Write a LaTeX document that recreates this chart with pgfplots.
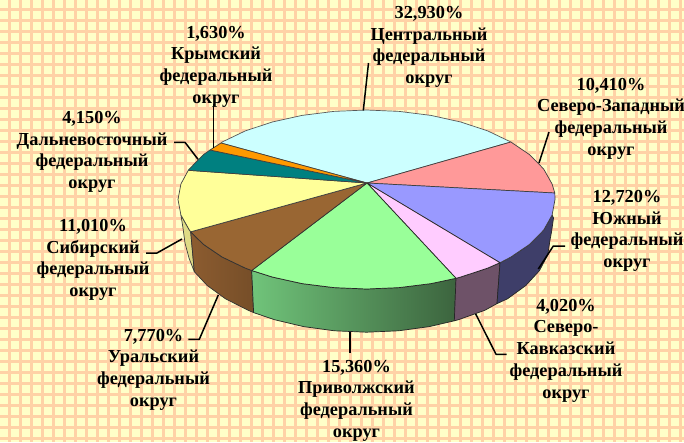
\documentclass[border=0pt]{standalone}
\usepackage{fontspec}
\setmainfont{Liberation Serif}
\usepackage{pgfplots}
\pgfplotsset{compat=1.18}
\definecolor{paper}{HTML}{FFFFC8}
\definecolor{gridc}{HTML}{FFD2A6}
\definecolor{slCyan}{HTML}{CCFFFF}
\definecolor{slPink}{HTML}{FF9999}
\definecolor{slBlue}{HTML}{9999FF}
\definecolor{slViolet}{HTML}{FFCCFF}
\definecolor{slGreen}{HTML}{99FF99}
\definecolor{slBrown}{HTML}{996633}
\definecolor{slYellow}{HTML}{FFFF99}
\definecolor{slTeal}{HTML}{008080}
\definecolor{slOrange}{HTML}{FF9900}
\newcommand{\lab}[3]{\node[font=\fontsize{18.3}{21.7}\selectfont\bfseries,align=center,inner sep=0pt,text=black] at (axis cs:#1,#2) {#3};}
\begin{document}
\begin{tikzpicture}
\begin{axis}[
    name=ax,
    width=684pt, height=442pt, scale only axis,
    xmin=0, xmax=684, ymin=0, ymax=442,
    y dir=reverse,
    axis line style={draw=none},
    tick style={draw=none},
    xticklabels={}, yticklabels={},
    xtick={9.5,20.5,...,680}, ytick={9.5,20.5,...,440},
    grid=major,
    major grid style={gridc, line width=2.4pt},
    axis background/.style={fill=paper},
    no markers,
    every axis plot/.append style={line join=round},
]
% side walls
\addplot[fill={rgb,255:red,222;green,219;blue,133}, draw=black!75, line width=0.7pt] coordinates {
 (180.9,215) (189.4,230.1) (190.7,231.8) (194.3,271.7) (189,258) (185,243) (183,228) (180.9,215)};
\addplot[left color={rgb,255:red,140;green,92;blue,48}, right color={rgb,255:red,118;green,78;blue,40}, draw=black!80, line width=0.7pt] coordinates {
 (190.7,231.8) (203.3,244.25) (222.1,257) (245.3,268.1) (251.7,270.5) (253.6,312.6) (248.2,310.3) (225.5,298.8) (207.2,285.5) (194.3,271.7) (190.7,231.8)};
\addplot[left color={rgb,255:red,112;green,196;blue,122}, right color={rgb,255:red,60;green,100;blue,62}, draw=black!85, line width=0.7pt] coordinates {
 (251.7,270.5) (272.25,277) (302,283.6) (333.8,287.6) (366.5,289) (399.2,287.6) (431,283.6) (456,278.3) (454.3,320.8) (429.4,326.6) (398.5,330.8) (366.5,332.2) (334.5,330.8) (303.6,326.6) (274.5,319.7) (253.6,312.6) (251.7,270.5)};
\addplot[fill={rgb,255:red,110;green,82;blue,104}, draw=black!85, line width=0.7pt] coordinates {
 (456,278.3) (460.75,277) (487.7,268.1) (500,262.7) (497,303.6) (484.8,310.3) (458.5,319.7) (454.3,320.8) (456,278.3)};
\addplot[fill={rgb,255:red,62;green,62;blue,105}, draw=black!85, line width=0.7pt] coordinates {
 (500,262.7) (510.9,257) (529.7,244.25) (543.6,230.1) (552.1,215) (553.5,218) (552.5,225) (551.5,232) (550,240) (547.7,255) (539.4,270.7) (525.8,285.5) (507.5,298.8) (497,303.6) (500,262.7)};
% top face
\addplot[fill=slCyan, draw=black!65, line width=0.7pt] coordinates {
 (367,183) (510.9,142) (487.7,130.9) (460.75,122) (431,115.4) (399.2,111.4) (366.5,110) (333.8,111.4) (302,115.4) (272.25,122) (245.3,130.9) (222.1,142) (221,143) (367,183)};
\addplot[fill=slPink, draw=black!75, line width=0.7pt] coordinates {
 (367,183) (554.8,193) (552.1,184) (543.6,168.9) (529.7,154.75) (510.9,142) (367,183)};
\addplot[fill=slBlue, draw=black!75, line width=0.7pt] coordinates {
 (367,183) (554.8,193) (555,199.5) (552.1,215) (543.6,230.1) (529.7,244.25) (510.9,257) (500,262.7) (367,183)};
\addplot[fill=slViolet, draw=black!85, line width=0.7pt] coordinates {
 (367,183) (500,262.7) (487.7,268.1) (460.75,277) (456,278.3) (367,183)};
\addplot[fill=slGreen, draw=black!85, line width=0.7pt] coordinates {
 (367,183) (456,278.3) (431,283.6) (399.2,287.6) (366.5,289) (333.8,287.6) (302,283.6) (272.25,277) (251.7,270.5) (367,183)};
\addplot[fill=slBrown, draw=black!80, line width=0.7pt] coordinates {
 (367,183) (251.7,270.5) (245.3,268.1) (222.1,257) (203.3,244.25) (190.7,231.8) (367,183)};
\addplot[fill=slYellow, draw=black!75, line width=0.7pt] coordinates {
 (367,183) (190.7,231.8) (189.4,230.1) (180.9,215) (178,199.5) (180.9,184) (188.3,170.3) (367,183)};
\addplot[fill=slTeal, draw=black!75, line width=0.7pt] coordinates {
 (367,183) (188.3,170.3) (189.4,168.9) (203.3,154.75) (210,150) (367,183)};
\addplot[fill=slOrange, draw=black!75, line width=0.7pt] coordinates {
 (367,183) (210,150) (221,143) (367,183)};
% leader lines
\addplot[black, line width=1.5pt] coordinates {(368.5,63) (363.3,110.5)};
\addplot[black, line width=1.5pt] coordinates {(213.3,104) (213.3,148)};
\addplot[black, line width=1.5pt] coordinates {(174,142.3) (185,142.3) (198,159.3)};
\addplot[black, line width=1.5pt] coordinates {(146,253) (157,253) (182,239)};
\addplot[black, line width=1.5pt] coordinates {(188.3,339.3) (199.3,339.3) (218.3,295)};
\addplot[black, line width=1.5pt] coordinates {(350,332) (350,353)};
\addplot[black, line width=1.5pt] coordinates {(475.7,314) (496,354.3) (506.7,354.3)};
\addplot[black, line width=1.5pt] coordinates {(538.3,269) (553.3,246) (565,246)};
\addplot[black, line width=1.5pt] coordinates {(539,163) (549,132)};
% labels
\lab{429}{47}{32,930\%\\Центральный\\федеральный\\округ}
\lab{611}{118.5}{10,410\%\\Северо-Западный\\федеральный\\округ}
\lab{627}{231}{12,720\%\\Южный\\федеральный\\округ}
\lab{566}{350.5}{4,020\%\\Северо-\\Кавказский\\федеральный\\округ}
\lab{356.5}{400.5}{15,360\%\\Приволжский\\федеральный\\округ}
\lab{153.5}{369.5}{7,770\%\\Уральский\\федеральный\\округ}
\lab{93}{260}{11,010\%\\Сибирский\\федеральный\\округ}
\lab{92}{152}{4,150\%\\Дальневосточный\\федеральный\\округ}
\lab{216}{66.5}{1,630\%\\Крымский\\федеральный\\округ}
\end{axis}
\pgfresetboundingbox
\path (ax.south west) rectangle (ax.north east);
\end{tikzpicture}
\end{document}
